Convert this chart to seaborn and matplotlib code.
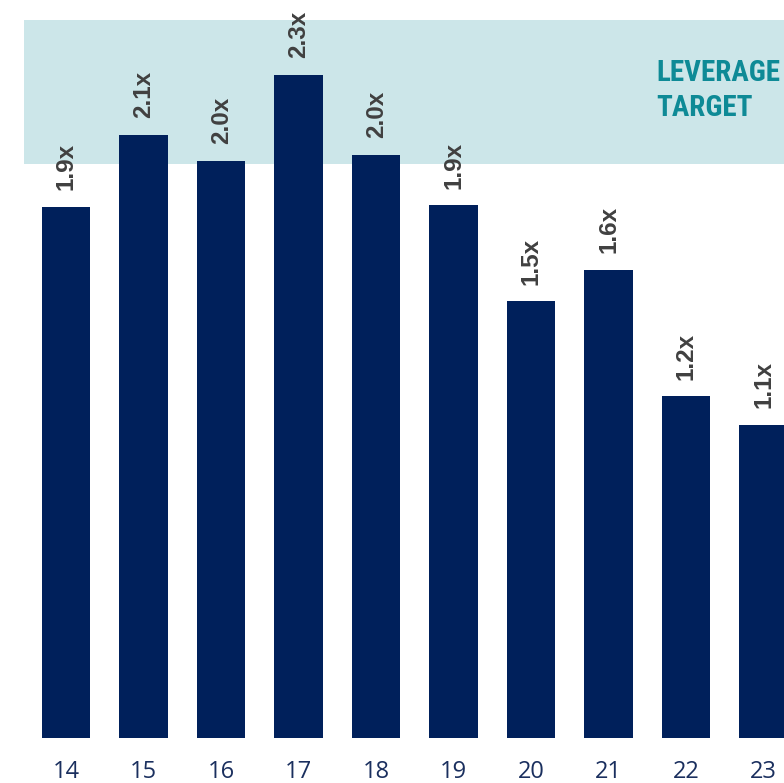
import matplotlib
matplotlib.use("Agg")
import matplotlib.pyplot as plt
from matplotlib import font_manager
import seaborn as sns
import pandas as pd

# Debt / EBITDA by fiscal year
years = ["14", "15", "16", "17", "18", "19", "20", "21", "22", "23"]
leverage = [1.85, 2.10, 2.01, 2.31, 2.03, 1.855, 1.52, 1.63, 1.19, 1.09]
target_low, target_high = 2.0, 2.5
target_label = ["LEVERAGE", "TARGET"]

NAVY = "#00205b"
BAND = "#cce6e9"
TEAL = "#0e8a96"
LABEL_GRAY = "#404040"
TICK_NAVY = "#1a2f5e"

sns.set_theme(style="white")
plt.rcParams["font.family"] = ["Open Sans", "DejaVu Sans"]

installed = {f.name for f in font_manager.fontManager.ttflist}
narrow = [n for n in ("Roboto Condensed", "Liberation Sans Narrow", "Arial Narrow")
          if n in installed]
if narrow:
    title_family, title_size = [narrow[0], "DejaVu Sans"], 21
else:
    title_family, title_size = ["Roboto", "DejaVu Sans"], 18.5

W, H = 784, 783
fig = plt.figure(figsize=(W / 100, H / 100), dpi=100)
ax = fig.add_axes([24 / W, 45 / H, 1 - 24 / W, (738 - 20) / H])

df = pd.DataFrame({"year": years, "leverage": leverage})

# target range shaded behind the bars
ax.axhspan(target_low, target_high, color=BAND, lw=0, zorder=0)

sns.barplot(data=df, x="year", y="leverage", color=NAVY, width=0.626,
            saturation=1, linewidth=0, ax=ax, zorder=2)

ax.set_xlim(-0.545, 9.264)
ax.set_ylim(0, 2.5)
ax.set_xlabel("")
ax.set_ylabel("")
ax.set_yticks([])
sns.despine(ax=ax, left=True, bottom=True)
ax.tick_params(axis="x", length=0, pad=16, labelsize=17, labelcolor=TICK_NAVY)

for i, v in enumerate(leverage):
    ax.annotate(f"{v:.1f}x", xy=(i, v), xytext=(0, 12), textcoords="offset points",
                rotation=90, ha="center", va="bottom", fontsize=17.5,
                fontweight="bold", color=LABEL_GRAY,
                family=["Liberation Sans", "DejaVu Sans"], zorder=3)

for k, line in enumerate(target_label):
    fig.text(656 / W, 1 - (81 + 35 * k) / H, line, ha="left", va="baseline",
             fontsize=title_size, fontweight="bold", color=TEAL,
             family=title_family, fontstretch="condensed")

fig.savefig("out.png", dpi=100)
